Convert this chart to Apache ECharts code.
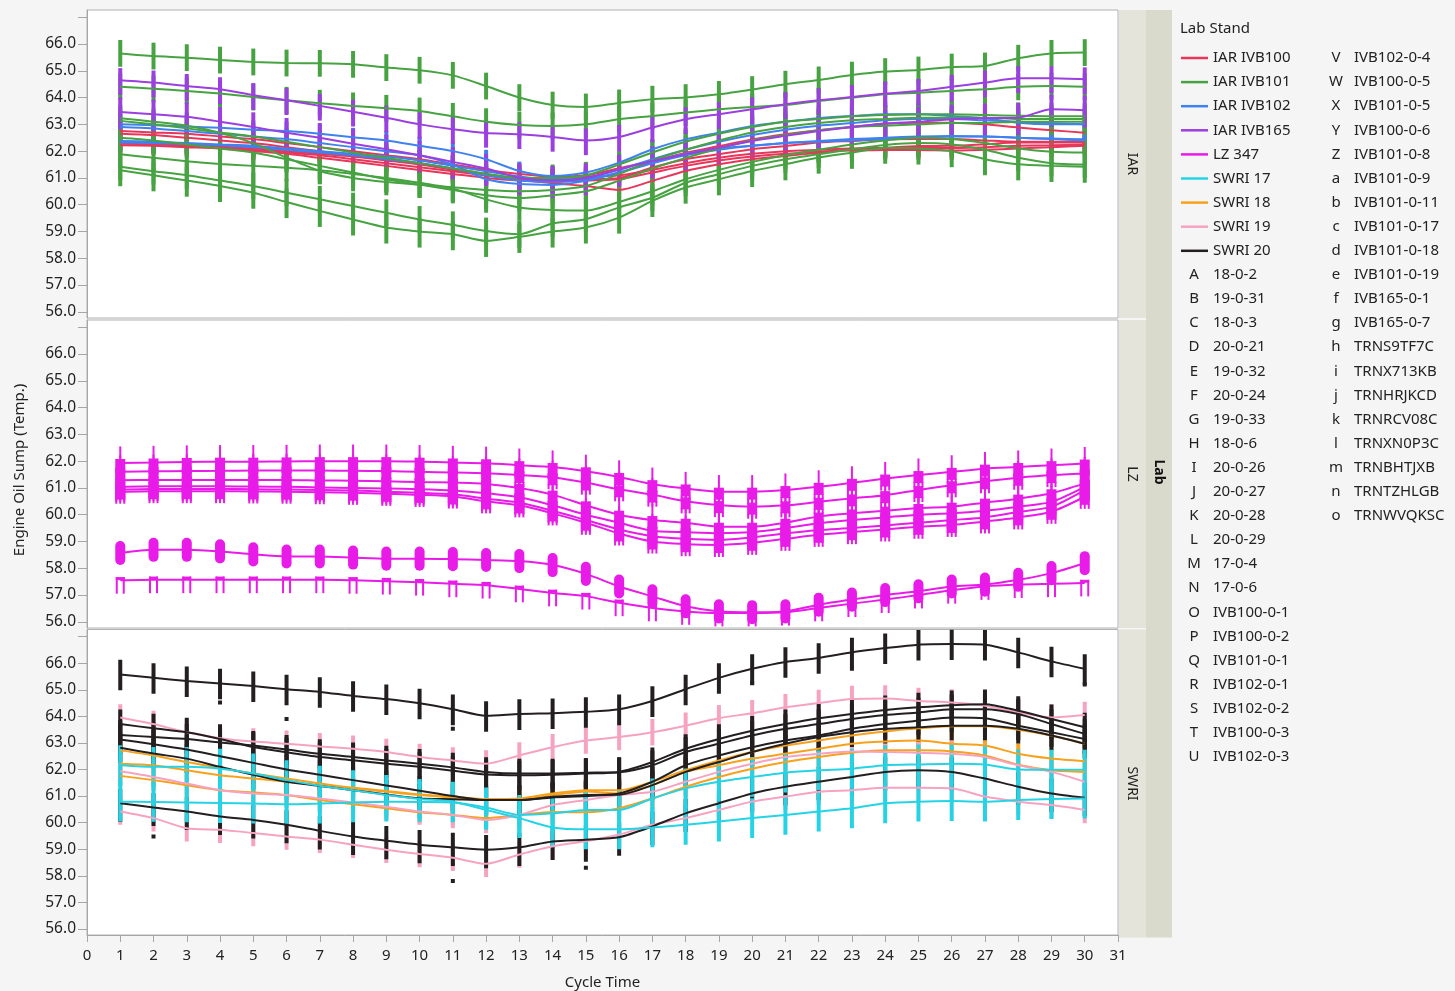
<!DOCTYPE html>
<html>
<head>
<meta charset="utf-8">
<script src="https://cdn.jsdelivr.net/npm/echarts@6/dist/echarts.min.js"></script>
<style>
html, body { margin: 0; padding: 0; background: #f5f5f5; }
#chart { width: 1455px; height: 991px; }
</style>
</head>
<body>
<div id="chart"></div>
<script>
// ---- data ---------------------------------------------------------------
const CYCLES = [1,2,3,4,5,6,7,8,9,10,11,12,13,14,15,16,17,18,19,20,21,22,23,24,25,26,27,28,29,30];
const Y_TICKS = [56,57,58,59,60,61,62,63,64,65,66,67];
const Y_LABELS = [56,57,58,59,60,61,62,63,64,65,66];
const PANELS = ['IAR', 'LZ', 'SWRI'];

// IAR IVB100
const ivb100_0_1 = [62.75,62.70,62.65,62.55,62.45,62.30,62.15,62.00,61.85,61.70, 61.50,61.30,61.15,61.05,61.10,61.36,61.63,61.94,62.19,62.44, 62.63,62.78,62.90,63.03,63.06,63.06,63.00,62.88,62.78,62.69];
const ivb100_0_2 = [62.65,62.60,62.50,62.40,62.30,62.15,62.00,61.85,61.70,61.55, 61.35,61.15,60.95,60.80,60.70,60.55,60.89,61.26,61.51,61.70, 61.82,61.94,62.07,62.13,62.19,62.20,62.26,62.32,62.32,62.32];
const ivb100_0_3 = [62.35,62.30,62.25,62.20,62.10,62.00,61.90,61.80,61.65,61.50, 61.30,61.10,60.95,60.90,60.95,61.00,61.39,61.70,61.88,62.07, 62.19,62.32,62.38,62.44,62.45,62.45,62.40,62.35,62.35,62.35];
const ivb100_0_5 = [62.28,62.25,62.20,62.15,62.05,61.95,61.85,61.70,61.55,61.40, 61.25,61.10,61.00,61.00,61.05,61.10,61.30,61.55,61.75,61.90, 62.00,62.05,62.10,62.12,62.12,62.12,62.15,62.20,62.22,62.25];
const ivb100_0_6 = [62.22,62.20,62.15,62.10,62.00,61.90,61.75,61.60,61.45,61.30, 61.15,61.00,60.90,60.85,60.90,60.95,61.20,61.45,61.65,61.80, 61.90,61.98,62.02,62.04,62.04,62.02,62.05,62.10,62.15,62.20];
// IAR IVB101
const ivb101_0_1  = [65.65,65.55,65.49,65.40,65.33,65.29,65.28,65.24,65.12,65.02, 64.83,64.43,64.00,63.72,63.65,63.80,63.94,64.00,64.12,64.30, 64.50,64.66,64.84,64.97,65.03,65.14,65.18,65.47,65.65,65.68];
const ivb101_0_5  = [64.40,64.33,64.25,64.15,64.02,63.90,63.79,63.69,63.60,63.50, 63.30,63.10,62.98,62.94,63.00,63.19,63.31,63.44,63.56,63.65, 63.72,63.87,64.00,64.12,64.18,64.25,64.31,64.40,64.43,64.40];
const ivb101_0_8  = [63.23,63.10,62.95,62.69,62.30,61.76,61.26,61.00,60.85,60.75, 60.65,60.55,60.50,60.55,60.70,61.15,61.65,62.05,62.40,62.70, 62.90,63.05,63.15,63.20,63.25,63.25,63.25,63.20,63.20,63.20];
const ivb101_0_9  = [63.13,63.00,62.85,62.70,62.55,62.35,62.15,61.95,61.75,61.55, 61.35,61.15,61.00,61.00,61.10,61.50,61.95,62.35,62.65,62.90, 63.10,63.20,63.30,63.35,63.38,63.38,63.35,63.32,63.30,63.30];
const ivb101_0_11 = [62.50,62.40,62.25,62.10,61.95,61.70,61.45,61.20,60.95,60.75, 60.55,60.35,60.25,60.35,60.50,60.90,61.35,61.75,62.10,62.40, 62.60,62.78,62.90,62.95,63.00,63.05,63.05,63.10,63.10,63.10];
const ivb101_0_17 = [61.88,61.75,61.62,61.52,61.45,61.38,61.29,61.15,61.00,60.82, 60.60,60.20,59.90,59.80,59.78,60.10,60.50,60.95,61.30,61.60, 61.85,62.05,62.25,62.40,62.50,62.45,62.30,62.10,61.98,61.95];
const ivb101_0_18 = [61.42,61.25,61.10,60.90,60.70,60.45,60.20,59.95,59.70,59.45, 59.25,59.02,58.90,59.30,59.46,59.90,60.26,60.82,61.14,61.45, 61.70,61.88,62.07,62.23,62.30,62.25,62.05,61.75,61.55,61.50];
const ivb101_0_19 = [61.29,61.10,60.90,60.70,60.45,60.10,59.77,59.45,59.15,59.00, 58.90,58.65,58.80,59.00,59.15,59.52,60.14,60.64,60.95,61.26, 61.51,61.76,61.94,62.13,62.10,62.00,61.70,61.51,61.45,61.42];
// IAR IVB102
const ivb102_0_1 = [63.00,62.97,62.92,62.87,62.80,62.75,62.65,62.52,62.40,62.20, 62.00,61.70,61.26,61.07,61.20,61.57,62.07,62.44,62.69,62.94, 63.10,63.23,63.31,63.38,63.38,63.31,63.23,63.06,63.00,63.00];
const ivb102_0_2 = [62.90,62.85,62.75,62.65,62.55,62.45,62.30,62.15,62.00,61.85, 61.50,60.95,60.77,60.74,60.89,61.20,61.60,61.90,62.10,62.20, 62.30,62.38,62.45,62.50,62.55,62.57,62.55,62.50,62.47,62.44];
const ivb102_0_3 = [62.38,62.35,62.30,62.25,62.20,62.10,62.00,61.90,61.80,61.65, 61.45,61.25,61.05,60.95,61.00,61.30,61.70,62.05,62.35,62.60, 62.80,62.95,63.05,63.15,63.20,63.20,63.15,63.10,63.05,63.00];
const ivb102_0_4 = [62.32,62.30,62.27,62.22,62.15,62.05,61.95,61.85,61.70,61.55, 61.35,61.10,60.90,60.85,60.95,61.20,61.55,61.85,62.05,62.20, 62.30,62.35,62.40,62.45,62.50,62.55,62.55,62.50,62.45,62.40];
// IAR IVB165
const ivb165_0_1 = [64.65,64.56,64.43,64.31,64.09,63.90,63.69,63.47,63.25,63.00, 62.82,62.68,62.63,62.53,62.40,62.53,62.88,63.19,63.38,63.56, 63.75,63.90,64.02,64.15,64.25,64.40,64.56,64.72,64.72,64.68];
const ivb165_0_7 = [63.46,63.38,63.28,63.10,62.90,62.69,62.50,62.28,62.07,61.85, 61.60,61.35,61.01,60.90,61.00,61.32,61.63,61.88,62.13,62.38, 62.57,62.75,62.90,63.03,63.10,63.19,63.23,63.25,63.56,63.53];
// LZ 347
const trns9tf7c = [61.93,61.95,61.97,61.98,61.98,61.99,62.00,62.00,62.00,61.98, 61.95,61.92,61.85,61.78,61.62,61.41,61.14,60.98,60.86,60.86, 60.92,61.04,61.19,61.35,61.48,61.60,61.72,61.78,61.85,61.91];
const trnx713kb = [61.60,61.62,61.63,61.64,61.65,61.65,61.65,61.64,61.63,61.60, 61.58,61.55,61.48,61.40,61.20,60.95,60.75,60.50,60.36,60.30, 60.35,60.48,60.61,60.73,60.92,61.10,61.25,61.38,61.48,61.54];
const trnhrjkcd = [61.29,61.30,61.30,61.30,61.30,61.30,61.28,61.27,61.25,61.22, 61.20,61.15,61.00,60.75,60.35,60.00,59.80,59.70,59.55,59.55, 59.70,59.93,60.05,60.15,60.25,60.30,60.45,60.60,60.80,61.17];
const trnrcv08c = [61.04,61.06,61.06,61.06,61.05,61.04,61.02,61.00,60.98,60.95, 60.90,60.80,60.65,60.35,60.00,59.70,59.40,59.35,59.31,59.35, 59.50,59.68,59.80,59.90,60.00,60.05,60.15,60.30,60.48,61.04];
const trnxn0p3c = [60.94,60.96,60.96,60.96,60.95,60.94,60.92,60.90,60.86,60.82, 60.76,60.60,60.45,60.15,59.80,59.45,59.20,59.10,59.06,59.15, 59.30,59.43,59.50,59.60,59.70,59.80,59.90,60.10,60.30,60.92];
const trnbhtjxb = [60.86,60.88,60.88,60.88,60.87,60.86,60.84,60.82,60.78,60.74, 60.68,60.50,60.35,60.05,59.70,59.30,59.00,58.90,58.87,58.95, 59.10,59.25,59.35,59.45,59.55,59.62,59.75,59.90,60.11,60.67];
const trntzhlgb = [58.57,58.69,58.69,58.63,58.52,58.44,58.44,58.40,58.36,58.36, 58.34,58.31,58.27,58.12,57.79,57.32,56.95,56.58,56.39,56.36, 56.39,56.64,56.83,57.00,57.14,57.32,57.39,57.57,57.82,58.19];
const trnwvqksc = [57.55,57.57,57.57,57.57,57.57,57.57,57.57,57.55,57.52,57.48, 57.42,57.37,57.23,57.08,56.96,56.71,56.52,56.39,56.33,56.33, 56.36,56.52,56.68,56.83,57.00,57.18,57.32,57.39,57.42,57.45];
// SWRI 17
const s17_0_4 = [62.16,62.10,62.10,62.03,61.85,61.60,61.39,61.22,61.04,60.89, 60.79,60.48,60.17,59.82,59.75,59.75,59.82,59.92,60.04,60.17, 60.29,60.42,60.54,60.73,60.79,60.81,60.79,60.85,60.89,60.91];
const s17_0_6 = [60.79,60.78,60.76,60.74,60.72,60.69,60.72,60.76,60.79,60.78, 60.76,60.57,60.29,60.35,60.48,60.48,60.91,61.29,61.54,61.72, 61.88,61.97,62.03,62.16,62.19,62.22,62.19,62.00,61.99,61.99];
// SWRI 18
const s18_0_2 = [62.72,62.53,62.28,62.06,61.85,61.66,61.47,61.31,61.19,61.06, 60.98,60.89,60.91,61.10,61.22,61.22,61.54,61.97,62.34,62.66, 62.90,63.09,63.28,63.43,63.55,63.63,63.63,63.50,63.28,62.97];
const s18_0_3 = [62.22,62.16,61.97,61.78,61.66,61.54,61.41,61.29,61.16,61.04, 60.94,60.85,60.88,61.03,61.17,61.10,61.41,61.91,62.16,62.41, 62.59,62.78,62.97,63.05,63.09,62.97,62.90,62.59,62.41,62.31];
const s18_0_6 = [61.76,61.60,61.41,61.22,61.14,61.04,60.85,60.69,60.54,60.39, 60.29,60.17,60.29,60.40,60.39,60.54,60.91,61.35,61.72,62.03, 62.28,62.47,62.63,62.72,62.72,62.68,62.53,62.18,61.97,61.91];
// SWRI 19
const s19_0_31 = [63.96,63.71,63.40,63.18,63.05,62.97,62.87,62.78,62.66,62.47, 62.34,62.22,62.53,62.84,63.09,63.22,63.40,63.65,63.93,64.12, 64.34,64.50,64.65,64.67,64.58,64.52,64.40,64.15,63.96,64.05];
const s19_0_32 = [61.93,61.72,61.47,61.22,61.10,61.04,60.91,60.76,60.60,60.42, 60.29,60.10,60.29,60.66,60.85,61.04,61.16,61.54,61.91,62.22, 62.47,62.59,62.68,62.66,62.63,62.59,62.47,62.16,61.91,61.54];
const s19_0_33 = [60.42,60.17,59.79,59.73,59.61,59.48,59.36,59.17,58.98,58.82, 58.68,58.45,58.80,59.11,59.30,59.55,59.92,60.17,60.48,60.79, 60.98,61.16,61.22,61.31,61.31,61.29,60.98,60.79,60.66,60.48];
// SWRI 20
const s20_0_21 = [65.58,65.45,65.33,65.24,65.14,65.02,64.92,64.77,64.65,64.49, 64.27,64.02,64.09,64.12,64.17,64.27,64.58,65.02,65.45,65.79, 66.05,66.20,66.41,66.57,66.70,66.72,66.70,66.41,66.07,65.79];
const s20_0_24 = [63.71,63.55,63.40,63.15,62.85,62.65,62.47,62.35,62.22,62.10, 61.95,61.81,61.78,61.80,61.85,61.91,62.28,62.78,63.15,63.46, 63.71,63.93,64.09,64.24,64.34,64.42,64.46,64.21,63.90,63.59];
const s20_0_26 = [63.30,63.22,63.15,63.02,62.90,62.75,62.59,62.47,62.34,62.22, 62.08,61.91,61.85,61.85,61.88,61.90,62.16,62.66,62.97,63.28, 63.53,63.71,63.90,64.05,64.15,64.27,64.27,64.09,63.71,63.34];
const s20_0_27 = [63.13,62.95,62.75,62.50,62.25,62.00,61.80,61.60,61.40,61.20, 61.00,60.85,60.85,60.95,61.00,61.10,61.54,62.16,62.53,62.84, 63.09,63.28,63.53,63.71,63.84,63.96,63.93,63.65,63.40,63.15];
const s20_0_28 = [62.82,62.60,62.41,62.10,61.80,61.54,61.38,61.22,61.06,60.91, 60.88,60.85,60.85,60.97,61.04,61.05,61.41,61.91,62.28,62.66, 62.97,63.22,63.40,63.53,63.59,63.65,63.65,63.53,63.28,62.97];
const s20_0_29 = [60.73,60.57,60.42,60.23,60.10,59.92,59.69,59.48,59.32,59.17, 59.07,58.98,59.07,59.29,59.36,59.45,59.86,60.35,60.73,61.10, 61.35,61.54,61.72,61.91,61.97,61.91,61.66,61.35,61.10,60.94];
// isolated SWRI 20 readings away from the main runs: [cycle, temp]
const s20_stray = [[2,59.48],[4,64.52],[6,63.90],[11,57.80],[11,63.53],[15,58.60],[15,58.30],[20,65.25],[23,65.79],[30,65.20]];

// spread of the readings around each run, [below, above]
const STAND_SPREAD = {
  'IVB100-0-1': [-0.35,0.35], 'IVB100-0-2': [-0.35,0.35], 'IVB100-0-3': [-0.35,0.35], 'IVB100-0-5': [-0.35,0.35], 'IVB100-0-6': [-0.35,0.35],
  'IVB101-0-1': [-0.5,0.5], 'IVB101-0-5': [-0.5,0.5], 'IVB101-0-8': [-0.5,0.5], 'IVB101-0-9': [-0.5,0.5],
  'IVB101-0-11': [-0.5,0.5], 'IVB101-0-17': [-0.5,0.5], 'IVB101-0-18': [-0.5,0.5], 'IVB101-0-19': [-0.6,0.5],
  'IVB102-0-1': [-0.35,0.35], 'IVB102-0-2': [-0.35,0.35], 'IVB102-0-3': [-0.35,0.35], 'IVB102-0-4': [-0.35,0.35],
  'IVB165-0-1': [-0.55,0.45], 'IVB165-0-7': [-0.65,0.55],
  'TRNS9TF7C': [-0.3,0.15], 'TRNX713KB': [-0.3,0.15], 'TRNHRJKCD': [-0.3,0.15], 'TRNRCV08C': [-0.3,0.15],
  'TRNXN0P3C': [-0.3,0.15], 'TRNBHTJXB': [-0.3,0.15], 'TRNTZHLGB': [-0.45,0.45], 'TRNWVQKSC': [-0.5,0.12],
  '17-0-4': [-0.75,0.75], '17-0-6': [-0.75,0.75],
  '18-0-2': [-0.4,0.4], '18-0-3': [-0.4,0.4], '18-0-6': [-0.4,0.4],
  '19-0-31': [-0.5,0.5], '19-0-32': [-0.5,0.5], '19-0-33': [-0.5,0.5],
  '20-0-21': [-0.6,0.55], '20-0-24': [-0.55,0.55], '20-0-26': [-0.55,0.55], '20-0-27': [-0.55,0.55],
  '20-0-28': [-0.55,0.55], '20-0-29': [-0.7,0.55]
};

// test stands: code, lab stand, panel, values
const STANDS = [
  ['IVB100-0-1','IAR IVB100',0,ivb100_0_1], ['IVB100-0-2','IAR IVB100',0,ivb100_0_2], ['IVB100-0-3','IAR IVB100',0,ivb100_0_3],
  ['IVB100-0-5','IAR IVB100',0,ivb100_0_5], ['IVB100-0-6','IAR IVB100',0,ivb100_0_6],
  ['IVB102-0-1','IAR IVB102',0,ivb102_0_1], ['IVB102-0-2','IAR IVB102',0,ivb102_0_2], ['IVB102-0-3','IAR IVB102',0,ivb102_0_3], ['IVB102-0-4','IAR IVB102',0,ivb102_0_4],
  ['IVB101-0-1','IAR IVB101',0,ivb101_0_1], ['IVB101-0-5','IAR IVB101',0,ivb101_0_5], ['IVB101-0-8','IAR IVB101',0,ivb101_0_8], ['IVB101-0-9','IAR IVB101',0,ivb101_0_9],
  ['IVB101-0-11','IAR IVB101',0,ivb101_0_11], ['IVB101-0-17','IAR IVB101',0,ivb101_0_17], ['IVB101-0-18','IAR IVB101',0,ivb101_0_18], ['IVB101-0-19','IAR IVB101',0,ivb101_0_19],
  ['IVB165-0-1','IAR IVB165',0,ivb165_0_1], ['IVB165-0-7','IAR IVB165',0,ivb165_0_7],
  ['TRNS9TF7C','LZ 347',1,trns9tf7c], ['TRNX713KB','LZ 347',1,trnx713kb], ['TRNHRJKCD','LZ 347',1,trnhrjkcd], ['TRNRCV08C','LZ 347',1,trnrcv08c],
  ['TRNXN0P3C','LZ 347',1,trnxn0p3c], ['TRNBHTJXB','LZ 347',1,trnbhtjxb], ['TRNTZHLGB','LZ 347',1,trntzhlgb], ['TRNWVQKSC','LZ 347',1,trnwvqksc],
  ['18-0-2','SWRI 18',2,s18_0_2], ['18-0-3','SWRI 18',2,s18_0_3], ['18-0-6','SWRI 18',2,s18_0_6],
  ['19-0-31','SWRI 19',2,s19_0_31], ['19-0-32','SWRI 19',2,s19_0_32], ['19-0-33','SWRI 19',2,s19_0_33],
  ['20-0-21','SWRI 20',2,s20_0_21], ['20-0-24','SWRI 20',2,s20_0_24], ['20-0-26','SWRI 20',2,s20_0_26], ['20-0-27','SWRI 20',2,s20_0_27],
  ['20-0-28','SWRI 20',2,s20_0_28], ['20-0-29','SWRI 20',2,s20_0_29],
  ['17-0-4','SWRI 17',2,s17_0_4], ['17-0-6','SWRI 17',2,s17_0_6]
];

const LAB_STANDS = ['IAR IVB100','IAR IVB101','IAR IVB102','IAR IVB165','LZ 347','SWRI 17','SWRI 18','SWRI 19','SWRI 20'];
const MARKER_KEY_1 = [['A','18-0-2'],['B','19-0-31'],['C','18-0-3'],['D','20-0-21'],['E','19-0-32'],['F','20-0-24'],['G','19-0-33'],
  ['H','18-0-6'],['I','20-0-26'],['J','20-0-27'],['K','20-0-28'],['L','20-0-29'],['M','17-0-4'],['N','17-0-6'],['O','IVB100-0-1'],
  ['P','IVB100-0-2'],['Q','IVB101-0-1'],['R','IVB102-0-1'],['S','IVB102-0-2'],['T','IVB100-0-3'],['U','IVB102-0-3']];
const MARKER_KEY_2 = [['V','IVB102-0-4'],['W','IVB100-0-5'],['X','IVB101-0-5'],['Y','IVB100-0-6'],['Z','IVB101-0-8'],['a','IVB101-0-9'],
  ['b','IVB101-0-11'],['c','IVB101-0-17'],['d','IVB101-0-18'],['e','IVB101-0-19'],['f','IVB165-0-1'],['g','IVB165-0-7'],['h','TRNS9TF7C'],
  ['i','TRNX713KB'],['j','TRNHRJKCD'],['k','TRNRCV08C'],['l','TRNXN0P3C'],['m','TRNBHTJXB'],['n','TRNTZHLGB'],['o','TRNWVQKSC']];

// ---- styling ------------------------------------------------------------
const FONT = '"Noto Sans", "Open Sans", sans-serif';
const LAB_COLOR = {
  'IAR IVB100': '#e8365b', 'IAR IVB101': '#47a342', 'IAR IVB102': '#3f82ef', 'IAR IVB165': '#9b3fe0',
  'LZ 347': '#e81be8', 'SWRI 17': '#26d3e4', 'SWRI 18': '#f7a11c', 'SWRI 19': '#f6a3c1', 'SWRI 20': '#231f20'
};
// drawing order of the reading bars, lowest first
const BAR_ORDER = ['IAR IVB100','IAR IVB102','IAR IVB101','IAR IVB165','LZ 347','SWRI 18','SWRI 19','SWRI 20','SWRI 17'];
const LZ_GLYPH = { 'TRNTZHLGB': 'oval', 'TRNWVQKSC': 'legs' };
const Y_MIN = 55.77, Y_MAX = 67.27;
const PLOT_LEFT = 87, PLOT_WIDTH = 1031, PLOT_HEIGHT = 308;
const PANEL_TOPS = [10, 320, 629.5];
const TICK_COLOR = '#a6a6a6';

const grids = PANEL_TOPS.map(t => ({
  left: PLOT_LEFT, top: t, width: PLOT_WIDTH, height: PLOT_HEIGHT,
  show: true, backgroundColor: '#ffffff', borderColor: '#b2b2b2', borderWidth: 1
}));

const xAxes = [0, 1, 2].map(i => ({
  type: 'value', gridIndex: i, min: 0, max: 31, interval: 1,
  splitLine: { show: false },
  axisLine: { show: i === 2, lineStyle: { color: TICK_COLOR } },
  axisTick: { show: i === 2, length: 7, lineStyle: { color: TICK_COLOR } },
  axisLabel: { show: i === 2, color: '#222', fontSize: 15, fontFamily: FONT, margin: 13 },
  name: i === 2 ? 'Cycle Time' : '', nameLocation: 'middle', nameGap: 40,
  nameTextStyle: { color: '#222', fontSize: 15, fontFamily: FONT }
}));

const yAxes = [0, 1, 2].map(i => ({
  type: 'value', gridIndex: i, min: Y_MIN, max: Y_MAX,
  splitLine: { show: false },
  axisLine: { show: true, lineStyle: { color: TICK_COLOR } },
  axisTick: { show: true, length: 9, customValues: Y_TICKS, lineStyle: { color: TICK_COLOR } },
  axisLabel: { customValues: Y_LABELS, formatter: v => v.toFixed(1), color: '#222', fontSize: 15.5, fontFamily: FONT, margin: 11 }
}));

function barSeries(stand) {
  const [code, lab, panel, values] = stand;
  const spread = STAND_SPREAD[code];
  const color = LAB_COLOR[lab];
  const glyph = panel === 1 ? (LZ_GLYPH[code] || 'block') : 'bar';
  const data = CYCLES.map((c, i) => [c, values[i] + spread[0], values[i] + spread[1], values[i]]);
  return {
    type: 'custom', xAxisIndex: panel, yAxisIndex: panel, clip: true, silent: true, z: 2,
    encode: { x: 0, y: [1, 2] }, data,
    renderItem: (params, api) => {
      const x = api.value(0);
      const top = api.coord([x, api.value(2)]);
      const bot = api.coord([x, api.value(1)]);
      const cx = top[0];
      if (glyph === 'bar') {
        return { type: 'rect', shape: { x: cx - 2, y: top[1], width: 4, height: bot[1] - top[1] }, style: { fill: color } };
      }
      if (glyph === 'oval') {
        return { type: 'rect', shape: { x: cx - 5, y: top[1], width: 10, height: bot[1] - top[1], r: 5 }, style: { fill: color } };
      }
      if (glyph === 'legs') {
        return { type: 'group', children: [
          { type: 'rect', shape: { x: cx - 4.5, y: top[1], width: 2, height: bot[1] - top[1] }, style: { fill: color } },
          { type: 'rect', shape: { x: cx + 2.5, y: top[1], width: 2, height: bot[1] - top[1] }, style: { fill: color } },
          { type: 'rect', shape: { x: cx - 4.5, y: top[1], width: 9, height: 3 }, style: { fill: color } }
        ] };
      }
      // stacked letter block with a thin stem above and legs below
      const v = api.value(3);
      const stemTop = api.coord([x, v + 0.62]);
      const stemBot = api.coord([x, v - 0.45]);
      return { type: 'group', children: [
        { type: 'rect', shape: { x: cx - 1, y: stemTop[1], width: 2, height: stemBot[1] - stemTop[1] }, style: { fill: color } },
        { type: 'rect', shape: { x: cx - 5, y: top[1], width: 10, height: bot[1] - top[1] }, style: { fill: color } },
        { type: 'rect', shape: { x: cx - 5, y: bot[1] - 1, width: 2, height: stemBot[1] - bot[1] + 1 }, style: { fill: color } },
        { type: 'rect', shape: { x: cx + 3, y: bot[1] - 1, width: 2, height: stemBot[1] - bot[1] + 1 }, style: { fill: color } }
      ] };
    }
  };
}

function lineSeries(stand) {
  const [code, lab, panel, values] = stand;
  return {
    type: 'line', name: code, xAxisIndex: panel, yAxisIndex: panel, silent: true, z: 4,
    data: CYCLES.map((c, i) => [c, values[i]]),
    showSymbol: false, smooth: 0.25,
    lineStyle: { color: LAB_COLOR[lab], width: 2 }
  };
}

const series = [];
BAR_ORDER.forEach(lab => STANDS.filter(s => s[1] === lab).forEach(s => series.push(barSeries(s))));
series.push({
  type: 'custom', xAxisIndex: 2, yAxisIndex: 2, clip: true, silent: true, z: 3,
  encode: { x: 0, y: 1 }, data: s20_stray,
  renderItem: (params, api) => {
    const p = api.coord([api.value(0), api.value(1)]);
    return { type: 'rect', shape: { x: p[0] - 2, y: p[1] - 2, width: 4, height: 4 }, style: { fill: LAB_COLOR['SWRI 20'] } };
  }
});
STANDS.forEach(s => series.push(lineSeries(s)));

// ---- panel strips, axis title and legend --------------------------------
const graphic = [];
const STRIP_X = PLOT_LEFT + PLOT_WIDTH;
PANEL_TOPS.forEach((t, i) => {
  graphic.push({ type: 'rect', shape: { x: STRIP_X + 1, y: t, width: 27, height: PLOT_HEIGHT }, style: { fill: '#e4e4da' }, z: 1 });
  graphic.push({ type: 'text', x: STRIP_X + 14, y: t + PLOT_HEIGHT / 2, rotation: -Math.PI / 2,
    style: { text: PANELS[i], font: '14px ' + FONT, fill: '#222', align: 'center', verticalAlign: 'middle' }, z: 2 });
});
graphic.push({ type: 'rect', shape: { x: STRIP_X + 28, y: PANEL_TOPS[0], width: 26, height: PANEL_TOPS[2] + PLOT_HEIGHT - PANEL_TOPS[0] }, style: { fill: '#d9d9cc' }, z: 1 });
graphic.push({ type: 'text', x: STRIP_X + 41, y: 472, rotation: -Math.PI / 2,
  style: { text: 'Lab', font: 'bold 14px ' + FONT, fill: '#111', align: 'center', verticalAlign: 'middle' }, z: 2 });
graphic.push({ type: 'text', x: 20, y: 470, rotation: Math.PI / 2,
  style: { text: 'Engine Oil Sump (Temp.)', font: '15px ' + FONT, fill: '#222', align: 'center', verticalAlign: 'middle' }, z: 2 });

const LEG_X = 1180, LEG_Y0 = 58, LEG_STEP = 24.1;
graphic.push({ type: 'text', x: LEG_X, y: 29,
  style: { text: 'Lab Stand', font: '15px ' + FONT, fill: '#222', align: 'left', verticalAlign: 'middle' } });
LAB_STANDS.forEach((lab, i) => {
  const y = LEG_Y0 + i * LEG_STEP;
  graphic.push({ type: 'line', shape: { x1: LEG_X + 1, y1: y, x2: LEG_X + 28, y2: y }, style: { stroke: LAB_COLOR[lab], lineWidth: 2.5 } });
  graphic.push({ type: 'text', x: LEG_X + 33, y,
    style: { text: lab, font: '15px ' + FONT, fill: '#222', align: 'left', verticalAlign: 'middle' } });
});
MARKER_KEY_1.forEach(([m, code], i) => {
  const y = LEG_Y0 + (LAB_STANDS.length + i) * LEG_STEP;
  graphic.push({ type: 'text', x: LEG_X + 14, y, style: { text: m, font: '15px ' + FONT, fill: '#222', align: 'center', verticalAlign: 'middle' } });
  graphic.push({ type: 'text', x: LEG_X + 33, y, style: { text: code, font: '15px ' + FONT, fill: '#222', align: 'left', verticalAlign: 'middle' } });
});
MARKER_KEY_2.forEach(([m, code], i) => {
  const y = LEG_Y0 + i * LEG_STEP;
  graphic.push({ type: 'text', x: LEG_X + 156, y, style: { text: m, font: '15px ' + FONT, fill: '#222', align: 'center', verticalAlign: 'middle' } });
  graphic.push({ type: 'text', x: LEG_X + 174, y, style: { text: code, font: '15px ' + FONT, fill: '#222', align: 'left', verticalAlign: 'middle' } });
});

const chart = echarts.init(document.getElementById('chart'), null, { renderer: 'canvas' });
chart.setOption({
  animation: false,
  backgroundColor: '#f5f5f5',
  textStyle: { fontFamily: FONT },
  grid: grids,
  xAxis: xAxes,
  yAxis: yAxes,
  series,
  graphic
});
</script>
</body>
</html>
